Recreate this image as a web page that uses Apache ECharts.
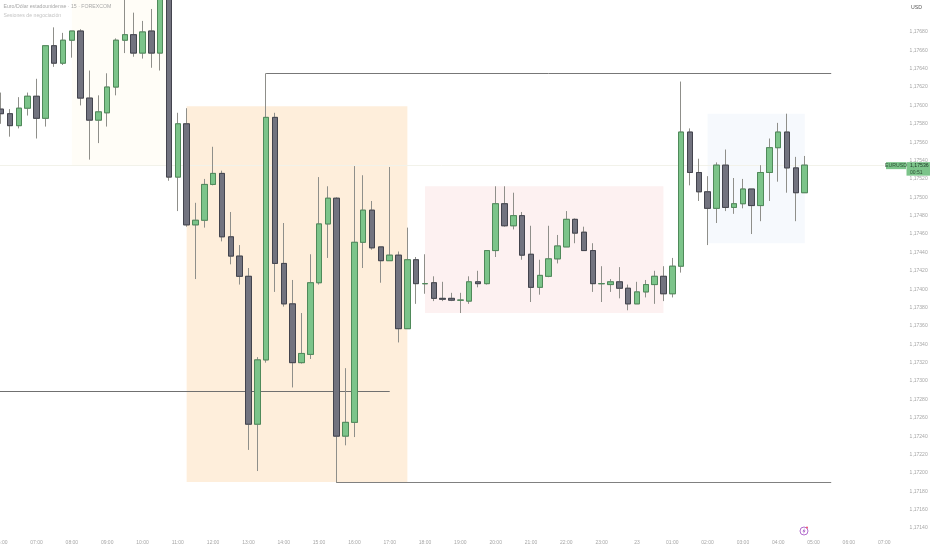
<!DOCTYPE html>
<html><head><meta charset="utf-8">
<script src="https://cdn.jsdelivr.net/npm/echarts@6/dist/echarts.min.js"></script>
<style>html,body{margin:0;padding:0;background:#fff}#c{width:932px;height:550px}</style>
</head><body><div id="c"></div>
<script>
const slots = ["05:45","06:00","06:15","06:30","06:45","07:00","07:15","07:30","07:45","08:00","08:15","08:30","08:45","09:00","09:15","09:30","09:45","10:00","10:15","10:30","10:45","11:00","11:15","11:30","11:45","12:00","12:15","12:30","12:45","13:00","13:15","13:30","13:45","14:00","14:15","14:30","14:45","15:00","15:15","15:30","15:45","16:00","16:15","16:30","16:45","17:00","17:15","17:30","17:45","18:00","18:15","18:30","18:45","19:00","19:15","19:30","19:45","20:00","20:15","20:30","20:45","21:00","21:15","21:30","21:45","22:00","22:15","22:30","22:45","23:00","23:15","23:30","23:45","23","00:15","00:30","00:45","01:00","01:15","01:30","01:45","02:00","02:15","02:30","02:45","03:00","03:15","03:30","03:45","04:00","04:15","04:30","04:45","05:00","05:15","05:30","05:45","06:00","06:15","06:30","06:45","07:00"];
const opens = [1.17596,1.17591,1.17578,1.17597,1.17610,1.17586,1.17665,1.17646,1.17671,1.17681,1.17608,1.17584,1.17592,1.17620,1.17671,1.17677,1.17657,1.17681,1.17657,1.17725,1.17522,1.17580,1.17470,1.17475,1.17514,1.17526,1.17457,1.17436,1.17414,1.17253,1.17323,1.17587,1.17428,1.17384,1.17320,1.17329,1.17407,1.17471,1.17499,1.17240,1.17255,1.17451,1.17486,1.17446,1.17431,1.17437,1.17357,1.17432,1.17406,1.17407,1.17390,1.17390,1.17388,1.17387,1.17408,1.17406,1.17442,1.17493,1.17469,1.17480,1.17438,1.17402,1.17414,1.17433,1.17446,1.17476,1.17462,1.17442,1.17406,1.17405,1.17408,1.17401,1.17384,1.17397,1.17405,1.17414,1.17395,1.17425,1.17571,1.17527,1.17506,1.17488,1.17535,1.17489,1.17493,1.17509,1.17491,1.17527,1.17554,1.17571,1.17532,1.17505];
const closes = [1.17591,1.17578,1.17597,1.17610,1.17586,1.17665,1.17646,1.17671,1.17681,1.17608,1.17584,1.17593,1.17620,1.17671,1.17677,1.17657,1.17680,1.17657,1.17725,1.17522,1.17580,1.17470,1.17475,1.17514,1.17526,1.17457,1.17436,1.17414,1.17253,1.17323,1.17587,1.17428,1.17384,1.17320,1.17330,1.17407,1.17471,1.17499,1.17240,1.17255,1.17451,1.17486,1.17445,1.17431,1.17437,1.17357,1.17432,1.17406,1.17406,1.17390,1.17389,1.17388,1.17388,1.17408,1.17406,1.17442,1.17493,1.17469,1.17480,1.17437,1.17402,1.17415,1.17433,1.17447,1.17476,1.17461,1.17442,1.17406,1.17406,1.17408,1.17401,1.17384,1.17397,1.17405,1.17414,1.17395,1.17425,1.17571,1.17527,1.17506,1.17488,1.17535,1.17489,1.17493,1.17509,1.17491,1.17527,1.17554,1.17571,1.17532,1.17505,1.17535];
const lows = [1.17580,1.17566,1.17575,1.17589,1.17564,1.17577,1.17642,1.17644,1.17652,1.17600,1.17541,1.17559,1.17577,1.17611,1.17657,1.17653,1.17651,1.17641,1.17638,1.17518,1.17485,1.17468,1.17411,1.17467,1.17513,1.17452,1.17427,1.17405,1.17225,1.17202,1.17320,1.17397,1.17381,1.17293,1.17319,1.17324,1.17405,1.17434,1.17189,1.17230,1.17239,1.17423,1.17443,1.17407,1.17431,1.17342,1.17357,1.17384,1.17395,1.17387,1.17387,1.17387,1.17374,1.17384,1.17402,1.17405,1.17435,1.17468,1.17465,1.17432,1.17386,1.17394,1.17413,1.17428,1.17446,1.17450,1.17442,1.17397,1.17386,1.17397,1.17390,1.17377,1.17384,1.17391,1.17384,1.17387,1.17391,1.17418,1.17513,1.17496,1.17448,1.17472,1.17485,1.17482,1.17488,1.17460,1.17474,1.17496,1.17517,1.17505,1.17474,1.17505];
const highs = [1.17614,1.17596,1.17609,1.17614,1.17629,1.17665,1.17685,1.17679,1.17681,1.17683,1.17638,1.17611,1.17635,1.17673,1.17725,1.17701,1.17692,1.17705,1.17730,1.17730,1.17592,1.17597,1.17494,1.17520,1.17555,1.17529,1.17484,1.17448,1.17423,1.17326,1.17635,1.17592,1.17472,1.17410,1.17374,1.17438,1.17522,1.17512,1.17500,1.17314,1.17534,1.17524,1.17496,1.17446,1.17533,1.17441,1.17467,1.17435,1.17438,1.17414,1.17408,1.17396,1.17396,1.17414,1.17420,1.17442,1.17512,1.17512,1.17505,1.17484,1.17469,1.17432,1.17469,1.17459,1.17485,1.17477,1.17468,1.17450,1.17425,1.17411,1.17424,1.17405,1.17408,1.17410,1.17420,1.17425,1.17434,1.17626,1.17575,1.17542,1.17523,1.17538,1.17552,1.17521,1.17520,1.17509,1.17535,1.17564,1.17581,1.17591,1.17544,1.17545];
const priceMin = 1.17140, priceMax = 1.17720, priceStep = 0.0002;
const currentPrice = 1.17535;
const priceText = "1,17536", countdownText = "00:51";
// session boxes: [fromSlot, toSlot, topPrice, bottomPrice, colour]
const sessionBoxes = [
  [9, 20, 1.17720, 1.17535, "#fffdf7"],
  [22, 47, 1.17599, 1.17190, "#feeedb"],
  [49, 76, 1.17512, 1.17374, "#fdf1f1"],
  [81, 92, 1.17591, 1.17450, "#f6f9fd"]
];
// level lines: [fromSlot, toSlot, price, colour]
const levelLines = [
  [31, 95, 1.17635, "#777777"],
  [39, 95, 1.17190, "#808080"],
  [0, 45, 1.17289, "#707070"]
];

// the first slot (05:45) holds no candle: it only lets the lines reach the left edge
const empty = ['-','-','-','-'];
const wickData = [empty].concat(opens.map((o,i)=>[o,closes[i],lows[i],highs[i]]));
const bodyData = [empty].concat(opens.map((o,i)=>[o,closes[i],Math.min(o,closes[i]),Math.max(o,closes[i])]));
const chart = echarts.init(document.getElementById('c'), null, {renderer:'canvas'});
const font = '"Liberation Sans", Arial, sans-serif';
const GRID = {left:-12.03, top:-4.8, width:900.63, height:532.8, outerBoundsMode:'none', containLabel:false};
chart.setOption({
  animation:false,
  backgroundColor:'#ffffff',
  grid:GRID,
  xAxis:{type:'category',data:slots,boundaryGap:true,
    axisLine:{show:false},axisTick:{show:false},splitLine:{show:false},
    axisLabel:{interval:i=>i%4===1,color:'#a6a6a6',fontSize:5,fontFamily:font,margin:12,hideOverlap:false}},
  yAxis:{type:'value',position:'right',min:priceMin,max:priceMax,interval:priceStep,scale:true,
    axisLine:{show:false},axisTick:{show:false},splitLine:{show:false},
    axisLabel:{color:'#a6a6a6',fontSize:5,fontFamily:font,margin:21,align:'left',
      showMinLabel:true,showMaxLabel:false,
      formatter:v=> v>1.1769 ? '' : v.toFixed(5).replace('.',',')}},
  series:[
    {name:'wick',type:'candlestick',data:wickData,barWidth:6,z:2,silent:true,
     itemStyle:{color:'rgba(0,0,0,0)',color0:'rgba(0,0,0,0)',borderColor:'#8f8f8a',borderColor0:'#8f8f8a',borderWidth:1},
     markArea:{silent:true,z:1,itemStyle:{opacity:1},
       data:sessionBoxes.map(b=>[{coord:[b[0],b[2]],itemStyle:{color:b[4]}},{coord:[b[1],b[3]]}])},
     markLine:{silent:true,z:1,symbol:'none',label:{show:false},
       data:[
         [{coord:[0,currentPrice],lineStyle:{color:'#f2f2ea',width:1,type:'solid'}},{coord:[101,currentPrice]}],
         ...levelLines.map(l=>[{coord:[l[0],l[2]],lineStyle:{color:l[3],width:1,type:'solid'}},{coord:[l[1],l[2]]}])
       ]}
    },
    {name:'body',type:'candlestick',data:bodyData,barWidth:6,z:3,silent:true,
     itemStyle:{color:'#7cc48a',color0:'#72737f',borderColor:'#4f8a5a',borderColor0:'#43444e',borderWidth:1}}
  ]
});
const yNow = chart.convertToPixel({yAxisIndex:0},currentPrice);
chart.setOption({graphic:[
  {type:'text',z:50,left:3.5,top:4.5,style:{text:'Euro/Dólar estadounidense · 15 · FOREXCOM',fill:'#a8a8a8',font:'5.2px '+font}},
  {type:'text',z:50,left:3.5,top:13,style:{text:'Sesiones de negociación',fill:'#c4c4c4',font:'5.2px '+font}},
  {type:'text',z:50,left:911,top:5,style:{text:'USD',fill:'#555555',font:'5.2px '+font}},
  {type:'rect',z:50,shape:{x:886,y:yNow-3,width:20,height:7},style:{fill:'#7cc48a'}},
  {type:'rect',z:50,shape:{x:906.5,y:yNow-3,width:23.5,height:13.5},style:{fill:'#7cc48a'}},
  {type:'text',z:51,x:896,y:yNow+0.5,style:{text:'EURUSD',fill:'#2f4f36',font:'5.2px '+font,align:'center',verticalAlign:'middle'}},
  {type:'text',z:51,x:910,y:yNow+0.5,style:{text:priceText,fill:'#20382a',font:'5.2px '+font,verticalAlign:'middle'}},
  {type:'text',z:51,x:910,y:yNow+7,style:{text:countdownText,fill:'#2f4f36',font:'5px '+font,verticalAlign:'middle'}},
  {type:'circle',z:50,shape:{cx:804,cy:531,r:4},style:{fill:'#fff',stroke:'#a95cc7',lineWidth:0.9}},
  {type:'polygon',z:51,shape:{points:[[804.8,527.9],[802.4,531.4],[803.9,531.4],[803.2,534.1],[805.6,530.6],[804.1,530.6]]},style:{fill:'#a95cc7'}},
  {type:'circle',z:51,shape:{cx:807,cy:527.6,r:1},style:{fill:'#ef5a6f'}}
]});
</script></body></html>
